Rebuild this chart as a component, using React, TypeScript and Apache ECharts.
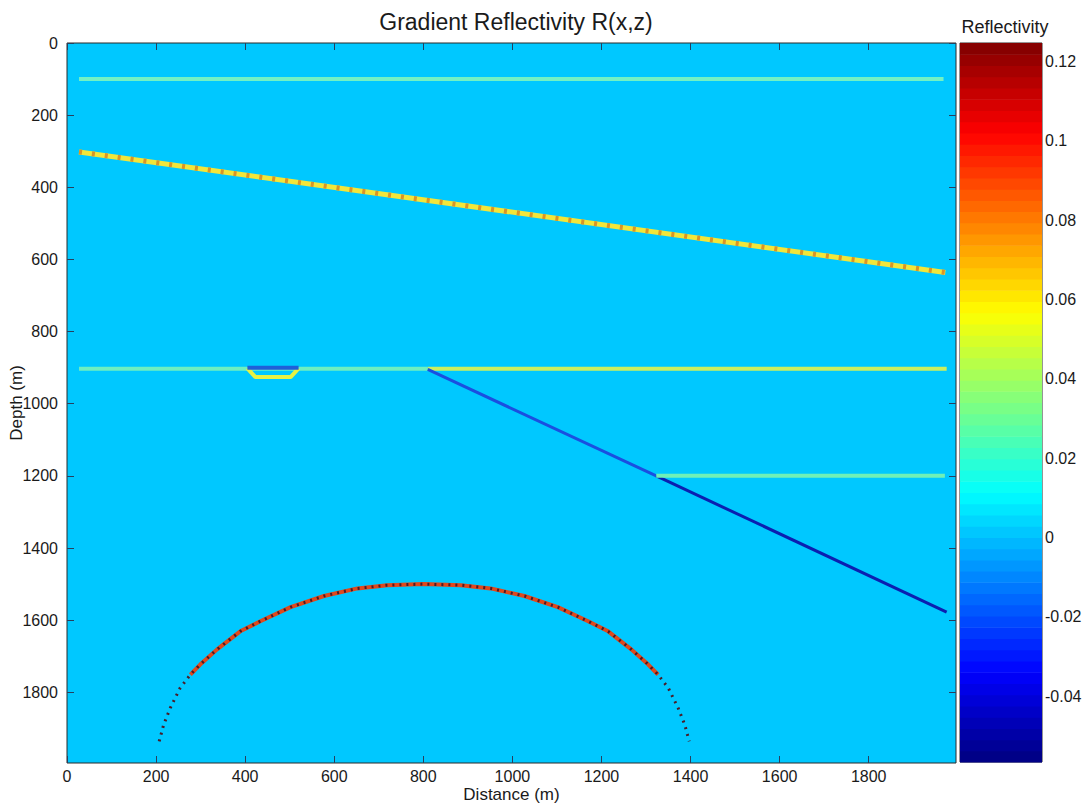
import React, { useEffect, useRef } from "react";
import * as echarts from "echarts";

// Axis extents and tick values
const X_MAX = 1996;
const Z_MAX = 1996;
const xTicks = [0, 200, 400, 600, 800, 1000, 1200, 1400, 1600, 1800];
const zTicks = [0, 200, 400, 600, 800, 1000, 1200, 1400, 1600, 1800];

// Colour scale of the reflectivity
const R_MIN = -0.0566;
const R_MAX = 0.1247;
const rTicks = [-0.04, -0.02, 0, 0.02, 0.04, 0.06, 0.08, 0.1, 0.12];
const BANDS = 64;

// Reflectors, as [distance, depth] vertices
const shallowFlat = [[27, 100], [1968, 100]];
const dippingBed = [[27, 302], [1972, 636]];
const midFlatWest = [[27, 903], [810, 903]];
const midFlatEast = [[810, 903], [1975, 903]];
const lensTop = [[405, 900], [520, 900]];
const lensBase = [[405, 902], [423, 926], [502, 926], [520, 902]];
const faultUpper = [[810, 905], [1323, 1200]];
const faultLower = [[1323, 1200], [1975, 1578]];
const deepFlat = [[1323, 1200], [1971, 1200]];
const domeX = [207, 217, 232, 254, 277, 299, 337, 389, 434, 502, 577, 652, 719, 800, 884, 951, 1027, 1102, 1170, 1215, 1267, 1305, 1327, 1350, 1372, 1387, 1397];
const domeZ = [1936, 1890, 1843, 1788, 1751, 1723, 1681, 1631, 1603, 1564, 1533, 1512, 1503, 1500, 1503, 1512, 1533, 1564, 1603, 1631, 1681, 1723, 1751, 1788, 1843, 1890, 1936];

const clamp01 = (v: number) => Math.max(0, Math.min(1, v));
function jet(t: number): string {
  const r = clamp01(1.5 - Math.abs(4 * t - 3));
  const g = clamp01(1.5 - Math.abs(4 * t - 2));
  const b = clamp01(1.5 - Math.abs(4 * t - 1));
  return `rgb(${Math.round(r * 255)},${Math.round(g * 255)},${Math.round(b * 255)})`;
}

const FONT = "Liberation Sans, Arial, sans-serif";
const INK = "#1a1a1a";
const TICK = "#27405e";

function lineSeries(data: number[][], color: string, width: number, dash?: number[]) {
  return {
    type: "line",
    xAxisIndex: 0,
    yAxisIndex: 0,
    data,
    symbol: "none",
    silent: true,
    lineStyle: { color, width, type: dash ? dash : "solid", cap: "butt" },
  };
}

// Frame-side axis that only carries inward ticks
function tickOnlyAxis(extra: any, ticks: number[], color: string) {
  return {
    type: "value",
    axisLine: { show: false, onZero: false },
    splitLine: { show: false },
    axisTick: { inside: true, length: 7, customValues: ticks, lineStyle: { color } },
    axisLabel: { show: false },
    ...extra,
  };
}

export default function App() {
  const ref = useRef<HTMLDivElement>(null);

  useEffect(() => {
    if (!ref.current) return;
    const chart = echarts.init(ref.current, undefined, { renderer: "svg" });

    const dome = domeX.map((x, i) => [x, domeZ[i]]);
    const domeUpper = dome.filter((p) => p[1] <= 1760);

    const step = (R_MAX - R_MIN) / BANDS;
    const bands = Array.from({ length: BANDS }, (_, i) => [0, R_MIN + i * step, R_MIN + (i + 1) * step]);

    const fmtR = (v: number) => String(Number(v.toFixed(2)));
    const fmtInt = (v: number) => String(Math.round(v));

    const option: any = {
      animation: false,
      backgroundColor: "#ffffff",
      textStyle: { fontFamily: FONT },
      title: [
        {
          text: "Gradient Reflectivity R(x,z)",
          left: 511,
          top: 5,
          textAlign: "center",
          textStyle: { fontFamily: FONT, fontSize: 23, fontWeight: "normal", color: INK },
        },
        {
          text: "Reflectivity",
          left: 1000,
          top: 13,
          textAlign: "center",
          textStyle: { fontFamily: FONT, fontSize: 18, fontWeight: "normal", color: INK },
        },
      ],
      grid: [
        {
          left: 67,
          top: 43,
          width: 889,
          height: 720,
          outerBoundsMode: "none",
          containLabel: false,
          show: true,
          backgroundColor: "#00c8ff",
          borderColor: "#2a2a2a",
          borderWidth: 1,
        },
        {
          left: 960,
          top: 43,
          width: 82,
          height: 719,
          outerBoundsMode: "none",
          containLabel: false,
          show: true,
          backgroundColor: "transparent",
          borderColor: "#2a2a2a",
          borderWidth: 1,
        },
      ],
      xAxis: [
        {
          type: "value",
          gridIndex: 0,
          position: "bottom",
          min: 0,
          max: X_MAX,
          name: "Distance (m)",
          nameLocation: "middle",
          nameGap: 23,
          nameMoveOverlap: false,
          nameTextStyle: { fontFamily: FONT, fontSize: 17, color: INK },
          axisLine: { show: false, onZero: false },
          splitLine: { show: false },
          axisTick: { inside: true, length: 7, customValues: xTicks, lineStyle: { color: TICK } },
          axisLabel: { customValues: xTicks, formatter: fmtInt, fontFamily: FONT, fontSize: 16, color: INK, margin: 5 },
        },
        tickOnlyAxis({ gridIndex: 0, position: "top", min: 0, max: X_MAX }, xTicks, TICK),
        {
          type: "value",
          gridIndex: 1,
          min: 0,
          max: 1,
          show: false,
          axisLine: { onZero: false },
        },
      ],
      yAxis: [
        {
          type: "value",
          gridIndex: 0,
          position: "left",
          inverse: true,
          min: 0,
          max: Z_MAX,
          name: "Depth (m)",
          nameLocation: "middle",
          nameGap: 42,
          nameMoveOverlap: false,
          nameRotate: 90,
          nameTextStyle: { fontFamily: FONT, fontSize: 17, color: INK },
          axisLine: { show: false, onZero: false },
          splitLine: { show: false },
          axisTick: { inside: true, length: 7, customValues: zTicks, lineStyle: { color: TICK } },
          axisLabel: { customValues: zTicks, formatter: fmtInt, fontFamily: FONT, fontSize: 16, color: INK, margin: 9 },
        },
        tickOnlyAxis({ gridIndex: 0, position: "right", inverse: true, min: 0, max: Z_MAX }, zTicks, TICK),
        {
          type: "value",
          gridIndex: 1,
          position: "right",
          min: R_MIN,
          max: R_MAX,
          axisLine: { show: false, onZero: false },
          splitLine: { show: false },
          axisTick: { inside: true, length: 7, customValues: rTicks, lineStyle: { color: "#555" } },
          axisLabel: { customValues: rTicks, formatter: fmtR, fontFamily: FONT, fontSize: 16, color: INK, margin: 3 },
        },
        tickOnlyAxis({ gridIndex: 1, position: "left", min: R_MIN, max: R_MAX }, rTicks, "#555"),
      ],
      series: [
        // colour bar bands
        {
          type: "custom",
          xAxisIndex: 2,
          yAxisIndex: 2,
          silent: true,
          clip: false,
          z: 1,
          data: bands,
          encode: { x: 0, y: [1, 2] },
          renderItem: (params: any, api: any) => {
            const lo = api.value(1);
            const hi = api.value(2);
            const p0 = api.coord([0, lo]);
            const p1 = api.coord([1, hi]);
            const t = (params.dataIndex + 0.5) / BANDS;
            return {
              type: "rect",
              shape: { x: p0[0], y: p1[1], width: p1[0] - p0[0], height: p0[1] - p1[1] + 0.6 },
              style: { fill: jet(t) },
            };
          },
        },
        lineSeries(shallowFlat, "#72f2c4", 4),
        lineSeries(dippingBed, "#f2e63a", 5),
        lineSeries(dippingBed, "#d99428", 5, [3, 10]),
        lineSeries(midFlatWest, "#6eefc0", 4),
        lineSeries(midFlatEast, "#cdef5e", 4),
        lineSeries(lensBase, "#e6f244", 4),
        lineSeries(lensTop, "#1f5fd8", 4),
        lineSeries(faultUpper, "#1a4fe0", 3),
        lineSeries(faultLower, "#0b1fb0", 3),
        lineSeries(deepFlat, "#6ff0b8", 4),
        lineSeries(domeUpper, "#e0481c", 4),
        lineSeries(dome, "#4a1c28", 3, [2, 5]),
      ],
    };

    chart.setOption(option);
    return () => chart.dispose();
  }, []);

  return <div ref={ref} style={{ position: "fixed", left: 0, top: 0, width: 1082, height: 805 }} />;
}
